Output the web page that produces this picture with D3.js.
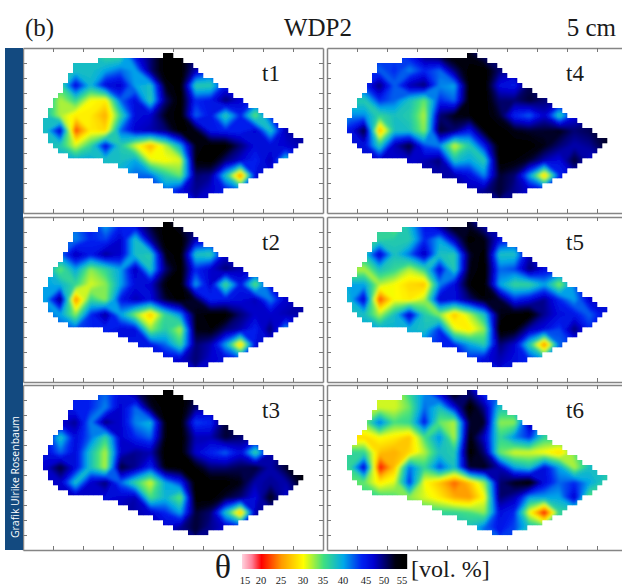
<!DOCTYPE html>
<html>
<head>
<meta charset="utf-8">
<script src="https://cdnjs.cloudflare.com/ajax/libs/d3/7.8.5/d3.min.js"></script>
<style>
  html, body { margin: 0; padding: 0; background: #fff; overflow: hidden; }
  text { font-family: "Liberation Serif", serif; fill: #1a1a1a; }
</style>
</head>
<body>
<svg id="chart" width="622" height="585"></svg>
<script>
// soil moisture (vol. %), 18 columns x 10 rows, north row first
const t1 = [
  [38,38,38,38,36,36,46,50,55,54,50,48,46,46,46,46,46,46],
  [38,38,38,38,40,42,40,50,55,55,48,44,45,46,46,46,46,46],
  [38,36,46,39,46,47,40,38,53,55,37,37,45,45,45,46,46,46],
  [38,32,36,30,29,42,46,37,50,55,44,45,50,47,44,44,46,46],
  [38,32,29,29,26,36,46,47,53,55,42,45,37,44,34,44,46,46],
  [38,47,22,29,28,42,47,48,50,55,53,45,44,44,47,38,48,48],
  [38,37,31,36,46,37,31,26,32,40,53,55,55,50,46,46,47,48],
  [40,40,40,40,38,38,40,31,30,31,54,55,50,47,44,48,38,45],
  [40,40,40,40,40,40,42,42,37,34,50,49,38,24,46,46,45,45],
  [42,42,42,42,42,42,42,44,42,46,49,47,45,42,46,46,45,45]
];
const t2 = [
  [42,42,42,45,40,44,47,52,55,52,50,48,47,47,47,47,47,47],
  [42,42,41,44,43,47,38,49,55,55,48,46,47,47,47,47,47,47],
  [42,42,48,45,49,47,38,37,53,55,38,37,47,47,47,47,47,47],
  [40,34,40,33,36,40,48,38,50,55,44,47,50,48,46,46,47,47],
  [40,39,36,31,33,40,46,47,54,55,40,47,35,45,34,46,47,47],
  [40,50,24,36,33,45,48,46,52,55,52,44,45,46,48,41,47,48],
  [42,40,33,44,49,40,33,27,36,41,53,55,55,50,47,47,48,48],
  [43,43,43,44,44,46,46,33,37,32,53,54,50,48,44,50,40,46],
  [45,45,45,45,45,45,45,45,42,36,50,48,40,27,46,46,46,46],
  [46,46,46,46,46,46,46,46,46,47,50,47,46,44,46,46,46,46]
];
const t3 = [
  [44,44,44,44,42,46,50,54,55,55,52,50,50,50,50,50,50,50],
  [46,46,44,44,41,47,42,52,55,55,50,48,50,50,50,50,50,50],
  [47,47,49,41,50,47,41,39,54,55,43,44,52,50,50,50,50,50],
  [46,38,46,42,36,47,44,42,54,55,48,48,52,50,48,48,50,50],
  [46,42,46,38,32,47,49,48,55,55,47,44,42,46,36,48,50,50],
  [47,52,46,38,32,52,49,44,54,55,54,50,50,51,52,48,52,53],
  [47,47,38,47,50,42,36,31,40,44,55,55,55,53,48,49,48,53],
  [48,48,48,47,46,47,48,35,39,34,55,55,52,50,46,53,47,50],
  [48,48,48,48,48,48,48,47,44,40,52,50,38,26,48,48,48,48],
  [48,48,48,48,48,48,48,48,47,49,52,49,47,46,48,48,48,48]
];
const t4 = [
  [44,44,44,43,45,50,52,55,53,50,50,50,50,50,50,50,50,50],
  [44,44,42,44,41,44,42,50,55,55,50,48,48,48,48,48,48,48],
  [44,44,50,42,48,50,41,40,55,55,46,45,51,48,48,48,48,48],
  [37,37,44,42,38,34,44,42,55,55,50,50,52,50,48,48,48,48],
  [41,41,36,38,37,32,50,53,54,55,52,44,42,47,37,46,48,48],
  [45,52,26,38,38,33,52,50,45,54,55,53,52,52,53,50,51,52],
  [46,46,37,48,52,43,41,31,37,45,55,55,55,53,50,48,49,52],
  [47,47,47,47,47,48,50,38,40,37,55,54,52,48,46,52,47,48],
  [47,47,47,47,47,48,48,48,46,41,52,50,40,27,44,47,47,47],
  [47,47,47,47,47,48,48,48,48,49,52,49,47,46,47,47,47,47]
];
const t5 = [
  [36,36,36,33,39,45,50,55,52,48,48,48,48,48,48,48,48,48],
  [36,36,36,37,37,44,40,48,55,53,46,44,46,46,46,46,46,46],
  [38,38,47,38,42,48,38,37,52,55,38,38,48,46,46,46,46,46],
  [32,32,38,36,32,36,46,37,53,55,42,43,50,46,44,44,46,46],
  [40,40,32,30,28,27,41,46,54,55,40,36,36,40,33,42,46,46],
  [39,47,22,30,29,32,47,46,50,54,52,44,46,49,44,40,47,47],
  [38,38,32,38,47,37,33,27,32,38,53,55,55,49,46,45,42,46],
  [40,40,40,39,39,38,44,31,29,33,55,54,48,46,43,50,44,44],
  [42,42,42,42,42,42,44,44,40,37,50,47,37,24,42,44,44,44],
  [44,44,44,44,44,44,44,44,44,46,48,46,44,40,44,44,44,44]
];
const t6 = [
  [31,31,31,31,36,41,47,55,50,44,42,42,42,42,42,42,42,42],
  [31,31,31,31,34,42,38,46,55,49,38,38,38,38,38,38,38,38],
  [34,34,42,35,36,45,34,32,52,52,33,33,49,38,38,38,38,38],
  [28,28,30,29,27,35,41,32,54,47,36,41,44,36,36,36,38,38],
  [36,36,27,26,28,32,38,37,55,50,34,31,31,30,28,34,38,38],
  [36,47,20,27,42,36,43,38,52,53,48,40,38,46,40,32,38,38],
  [34,34,29,31,44,30,27,23,27,33,50,53,55,46,42,44,40,37],
  [36,36,36,35,33,31,29,26,25,30,50,48,40,40,40,47,34,36],
  [36,36,36,36,36,36,36,36,35,33,46,44,30,20,36,36,36,36],
  [38,38,38,38,38,38,38,38,38,42,45,43,38,36,38,38,38,38]
];

const panelNames = ["t1", "t2", "t3", "t4", "t5", "t6"];
const panelGrids = [t1, t2, t3, t4, t5, t6];

// outline of the plot in axis units
const fieldOutline = [
  [4.9, 10.53], [5.47, 10.07], [6.47, 8.53], [9.4, 4.73], [7.5, 2.07], [6, 1.07],
  [5.57, 1.07], [5, 1.53], [2.67, 3.53], [1.23, 3.93], [0.57, 5.73], [1.73, 9.87],
  [2.9, 10.33], [3.67, 10.4]
];

const xTicks = [1, 2, 3, 4, 5, 6, 7, 8, 9];
const yTicks = [1, 2, 3, 4, 5, 6, 7, 8, 9, 10];

const colorStops = [14, 17, 20, 25, 30, 35, 40, 44, 47, 50, 53, 55];
const colorValues = ["#ffd0dc", "#ff8098", "#ff0000", "#ff9a00", "#ffff00", "#40e080", "#00a8e8", "#0020f0", "#0000d0", "#000070", "#000010", "#000000"];
const legendTicks = [15, 20, 25, 30, 35, 40, 45, 50, 55];

const panelW = 300, panelH = 165;
const color = d3.scaleLinear().domain(colorStops).range(colorValues).clamp(true);
const x = d3.scaleLinear().domain([0, 10]).range([0, panelW]);
const y = d3.scaleLinear().domain([0, 11]).range([panelH, 0]);

const svg = d3.select("#chart");
const defs = svg.append("defs");

defs.append("filter")
  .attr("id", "soft")
  .attr("x", "-5%").attr("y", "-5%").attr("width", "110%").attr("height", "110%")
  .append("feGaussianBlur")
  .attr("stdDeviation", 1.6);

// the field edge is blocky in the original, so clip it with small squares
let clip = defs.append("clipPath").attr("id", "field");
let stepX = 1 / 6, stepY = 1 / 3;
for (let cx = 0; cx < 10; cx += stepX) {
  for (let cy = 0; cy < 11; cy += stepY) {
    if (d3.polygonContains(fieldOutline, [cx + stepX / 2, cy + stepY / 2])) {
      clip.append("rect")
        .attr("x", x(cx))
        .attr("y", y(cy + stepY))
        .attr("width", x(stepX) + 0.3)
        .attr("height", y(0) - y(stepY) + 0.3);
    }
  }
}

// grid cell (cx, cy) -> screen, grid spans x 0.5..9.5 and y 11..1
const gridPath = d3.geoPath(d3.geoTransform({
  point(cx, cy) {
    this.stream.point(x(0.5 + cx * 0.5), y(11 - cy));
  }
}));
const contours = d3.contours().size([18, 10]).thresholds(d3.range(14, 55.5, 0.5));

panelNames.forEach((name, idx) => {
  let col = Math.floor(idx / 3), row = idx % 3;
  let left = col === 0 ? 23 : 327;
  let top = [48, 217, 385][row];
  let g = svg.append("g").attr("transform", `translate(${left},${top})`);
  let bands = contours(panelGrids[idx].flat());

  let field = g.append("g").attr("clip-path", "url(#field)");
  [false, true].forEach(blurred => {
    let layer = field.append("g");
    if (blurred) layer.attr("filter", "url(#soft)");
    layer.selectAll("path")
      .data(bands)
      .join("path")
      .attr("d", gridPath)
      .attr("fill", d => color(d.value + 0.25));
  });

  let axes = [
    d3.axisTop(x).tickValues(xTicks),
    d3.axisBottom(x).tickValues(xTicks),
    d3.axisLeft(y).tickValues(yTicks),
    d3.axisRight(y).tickValues(yTicks)
  ];
  axes.forEach((axis, i) => {
    let a = g.append("g")
      .attr("transform", i === 1 ? `translate(0,${panelH})` : i === 3 ? `translate(${panelW},0)` : null)
      .call(axis.tickFormat("").tickSizeOuter(0).tickSizeInner(-4));
    a.select(".domain").attr("stroke", "#858585").attr("stroke-width", 1.5);
    a.selectAll(".tick line").attr("stroke", "#777");
  });

  g.append("text")
    .attr("x", 248)
    .attr("y", 33)
    .attr("text-anchor", "middle")
    .attr("font-size", 23)
    .text(name);
});

// header
svg.append("text").attr("x", 25).attr("y", 36).attr("font-size", 25).text("(b)");
svg.append("text").attr("x", 318).attr("y", 36).attr("text-anchor", "middle").attr("font-size", 25).text("WDP2");
svg.append("text").attr("x", 616).attr("y", 36).attr("text-anchor", "end").attr("font-size", 25).text("5 cm");

// credit strip
svg.append("rect").attr("x", 5).attr("y", 48).attr("width", 18).attr("height", 502).attr("fill", "#134a80");
svg.append("text")
  .attr("transform", "translate(18.5,477) rotate(-90)")
  .attr("text-anchor", "middle")
  .style("font-family", "'Open Sans', sans-serif")
  .style("fill", "#fff")
  .attr("font-size", 10.5)
  .text("Grafik Ulrike Rosenbaum");

// colour bar
const legendX = d3.scaleLinear().domain(legendTicks).range([245, 261, 281, 303, 323, 343, 366, 384, 402]);
const legendPx = d3.range(242, 407);
svg.append("g").selectAll("rect")
  .data(legendPx)
  .join("rect")
  .attr("x", d => d)
  .attr("y", 554)
  .attr("width", 1.2)
  .attr("height", 15)
  .attr("fill", d => color(legendX.invert(d)));
svg.append("g").selectAll("text")
  .data(legendTicks)
  .join("text")
  .attr("x", d => legendX(d))
  .attr("y", 584)
  .attr("text-anchor", "middle")
  .attr("font-size", 10.5)
  .attr("fill", "#333")
  .text(d => d);

svg.append("text").attr("x", 223).attr("y", 578).attr("text-anchor", "middle").attr("font-size", 34).text("θ");
svg.append("text").attr("x", 411).attr("y", 577).attr("font-size", 24).text("[vol. %]");
</script>
</body>
</html>
